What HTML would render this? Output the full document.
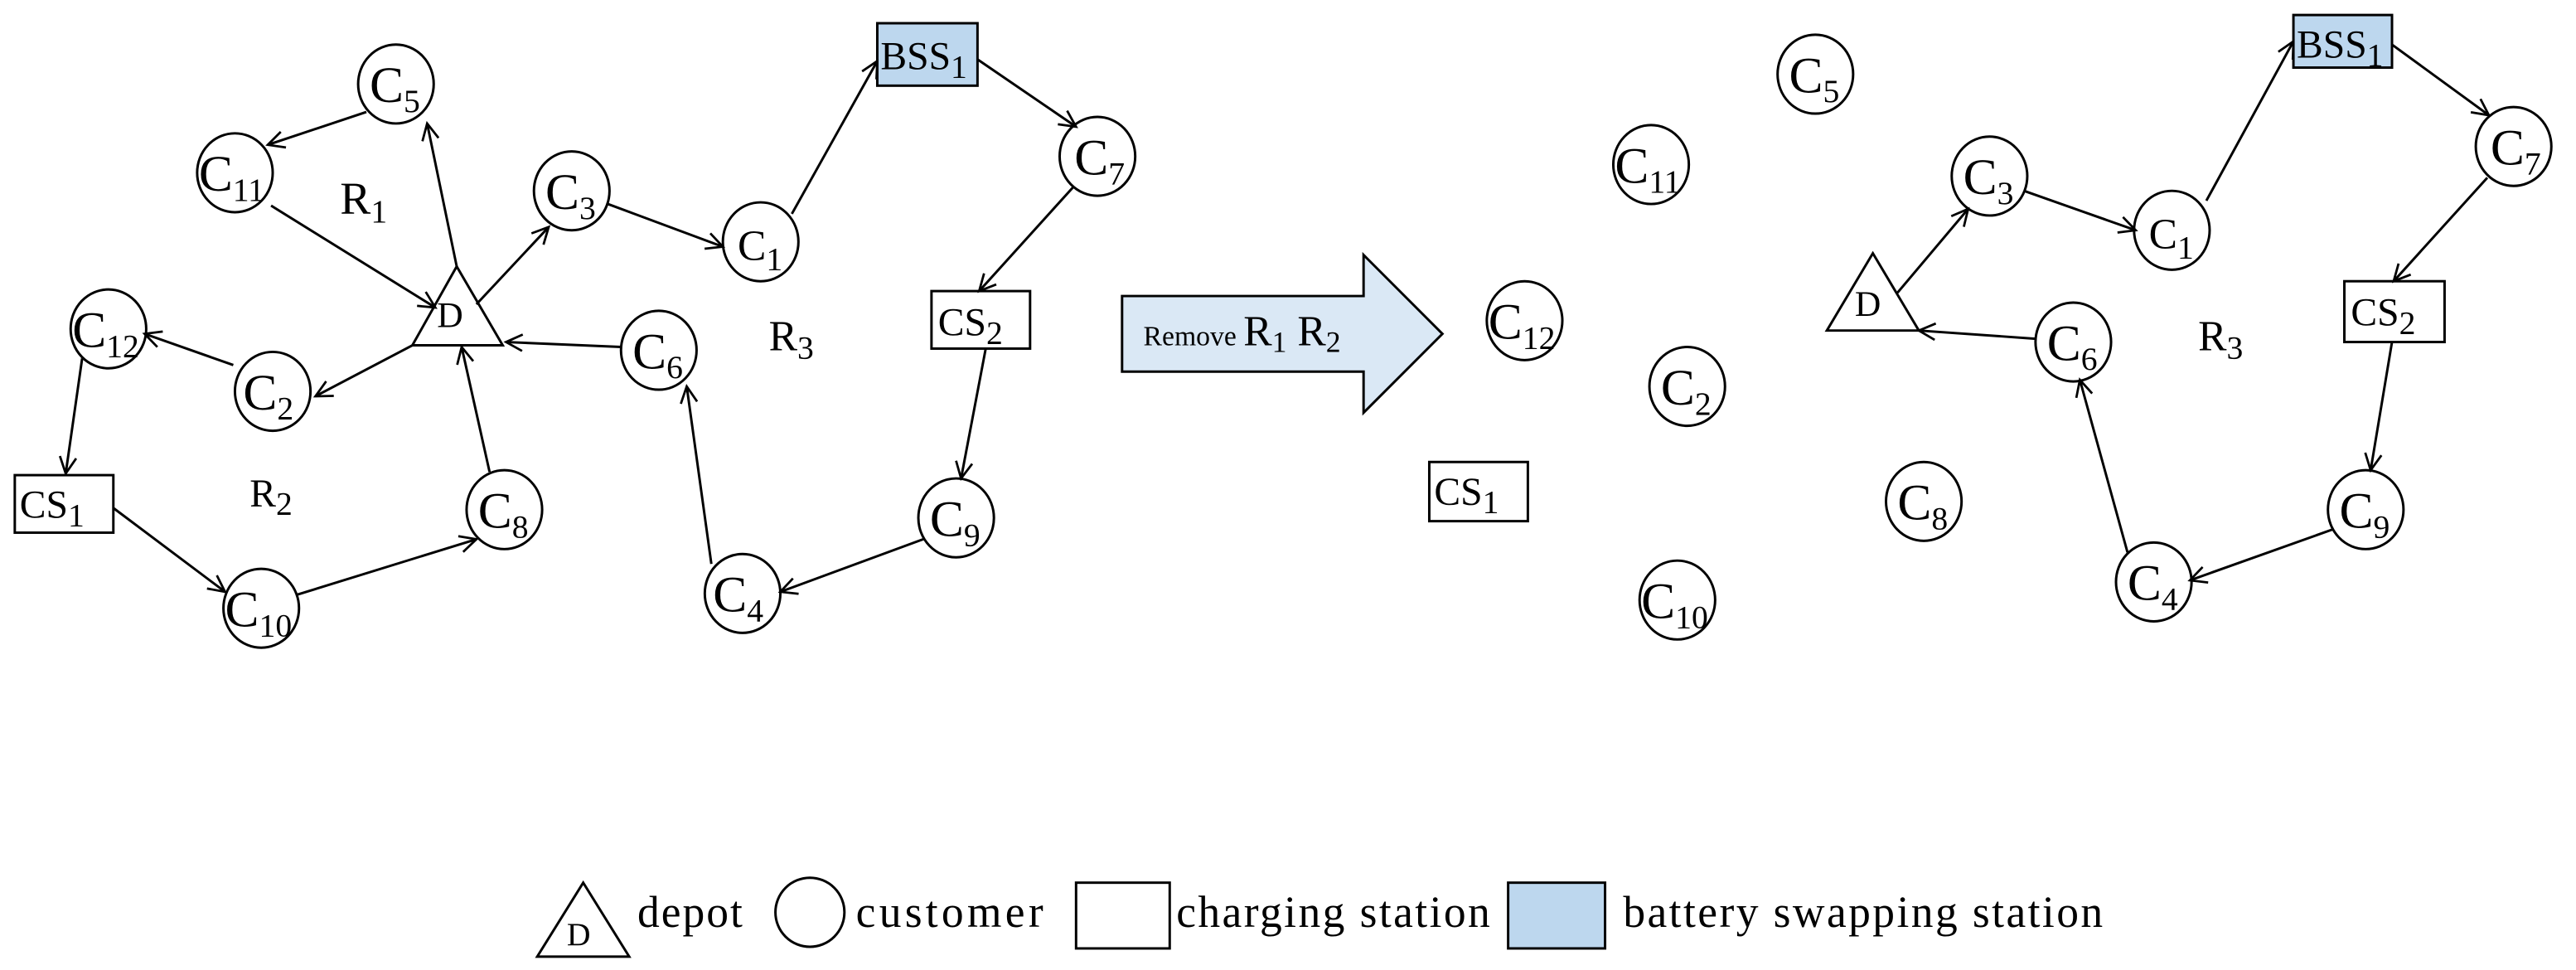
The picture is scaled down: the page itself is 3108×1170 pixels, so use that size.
<!DOCTYPE html>
<html><head><meta charset="utf-8"><style>
html,body{margin:0;padding:0;background:#fff;}
svg{display:block}
text{font-family:"Liberation Serif",serif;fill:#000}
.c{font-size:31px}
.s{font-size:20px}
</style></head><body>
<svg width="3108" height="1170" viewBox="0 0 1568 590" xmlns="http://www.w3.org/2000/svg">
<defs>
<marker id="a" markerWidth="14" markerHeight="14" refX="12" refY="7" orient="auto" markerUnits="userSpaceOnUse">
<polyline points="2,2 12,7 2,12" fill="none" stroke="#000" stroke-width="1.4"/>
</marker>
</defs>
<g fill="none" stroke="#000" stroke-width="1.5">
<ellipse cx="241" cy="51" rx="23" ry="24"/>
<ellipse cx="143" cy="105" rx="23" ry="24"/>
<ellipse cx="348" cy="116" rx="23" ry="24"/>
<ellipse cx="463" cy="147" rx="23" ry="24"/>
<ellipse cx="668" cy="95" rx="23" ry="24"/>
<ellipse cx="66" cy="200" rx="23" ry="24"/>
<ellipse cx="166" cy="238" rx="23" ry="24"/>
<ellipse cx="401" cy="213" rx="23" ry="24"/>
<ellipse cx="307" cy="310" rx="23" ry="24"/>
<ellipse cx="582" cy="315" rx="23" ry="24"/>
<ellipse cx="159" cy="370" rx="23" ry="24"/>
<ellipse cx="452" cy="361" rx="23" ry="24"/>
<rect x="534" y="14" width="61" height="38" fill="#bdd7ee"/>
<rect x="567" y="177" width="60" height="35"/>
<rect x="9" y="289" width="60" height="35"/>
<polygon points="278,162 251,210 306,210"/>
<line x1="223" y1="68" x2="163" y2="88" marker-end="url(#a)"/>
<line x1="278" y1="162" x2="260" y2="75" marker-end="url(#a)"/>
<line x1="165" y1="125" x2="265" y2="187" marker-end="url(#a)"/>
<line x1="290" y1="185" x2="334" y2="138" marker-end="url(#a)"/>
<line x1="370" y1="124" x2="440" y2="150" marker-end="url(#a)"/>
<line x1="482" y1="130" x2="534" y2="37" marker-end="url(#a)"/>
<line x1="595" y1="36" x2="655" y2="77" marker-end="url(#a)"/>
<line x1="653" y1="114" x2="596" y2="177" marker-end="url(#a)"/>
<line x1="600" y1="212" x2="585" y2="291" marker-end="url(#a)"/>
<line x1="562" y1="328" x2="475" y2="360" marker-end="url(#a)"/>
<line x1="433" y1="343" x2="418" y2="235" marker-end="url(#a)"/>
<line x1="378" y1="211" x2="308" y2="208" marker-end="url(#a)"/>
<line x1="298" y1="287" x2="281" y2="211" marker-end="url(#a)"/>
<line x1="251" y1="210" x2="192" y2="241" marker-end="url(#a)"/>
<line x1="142" y1="222" x2="88" y2="203" marker-end="url(#a)"/>
<line x1="50" y1="218" x2="40" y2="288" marker-end="url(#a)"/>
<line x1="69" y1="309" x2="137" y2="360" marker-end="url(#a)"/>
<line x1="180" y1="362" x2="290" y2="328" marker-end="url(#a)"/>
<polygon points="683,180 830,180 830,155 878,203 830,251 830,226 683,226" fill="#dae8f5"/>
<ellipse cx="1105" cy="45" rx="23" ry="24"/>
<ellipse cx="1005" cy="100" rx="23" ry="24"/>
<ellipse cx="928" cy="195" rx="23" ry="24"/>
<ellipse cx="1027" cy="235" rx="23" ry="24"/>
<ellipse cx="1171" cy="305" rx="23" ry="24"/>
<ellipse cx="1021" cy="365" rx="23" ry="24"/>
<ellipse cx="1211" cy="107" rx="23" ry="24"/>
<ellipse cx="1322" cy="140" rx="23" ry="24"/>
<ellipse cx="1530" cy="89" rx="23" ry="24"/>
<ellipse cx="1262" cy="208" rx="23" ry="24"/>
<ellipse cx="1440" cy="310" rx="23" ry="24"/>
<ellipse cx="1311" cy="354" rx="23" ry="24"/>
<rect x="870" y="281" width="60" height="36"/>
<rect x="1396" y="9" width="60" height="32" fill="#bdd7ee"/>
<rect x="1427" y="171" width="61" height="37"/>
<polygon points="1140,154 1112,201 1168,201"/>
<line x1="1155" y1="178" x2="1198" y2="127" marker-end="url(#a)"/>
<line x1="1232" y1="116" x2="1300" y2="140" marker-end="url(#a)"/>
<line x1="1343" y1="122" x2="1396" y2="25" marker-end="url(#a)"/>
<line x1="1456" y1="27" x2="1515" y2="70" marker-end="url(#a)"/>
<line x1="1514" y1="108" x2="1457" y2="171" marker-end="url(#a)"/>
<line x1="1456" y1="208" x2="1443" y2="286" marker-end="url(#a)"/>
<line x1="1420" y1="322" x2="1333" y2="353" marker-end="url(#a)"/>
<line x1="1295" y1="336" x2="1266" y2="231" marker-end="url(#a)"/>
<line x1="1239" y1="206" x2="1168" y2="201" marker-end="url(#a)"/>
<polygon points="355,537 327,582 383,582"/>
<ellipse cx="493" cy="555" rx="21" ry="21"/>
<rect x="655" y="537" width="57" height="40"/>
<rect x="918" y="537" width="59" height="40" fill="#bdd7ee"/>
</g>
<g>
<text class="c" x="225" y="62">C<tspan class="s" dy="6">5</tspan></text>
<text class="c" x="121" y="116">C<tspan class="s" dy="6">11</tspan></text>
<text class="c" x="332" y="127">C<tspan class="s" dy="6">3</tspan></text>
<text class="c" x="449" y="158" style="font-size:26px">C<tspan class="s" dy="6">1</tspan></text>
<text class="c" x="654" y="106">C<tspan class="s" dy="6">7</tspan></text>
<text class="c" x="44" y="211">C<tspan class="s" dy="6">12</tspan></text>
<text class="c" x="148" y="249">C<tspan class="s" dy="6">2</tspan></text>
<text class="c" x="385" y="224">C<tspan class="s" dy="6">6</tspan></text>
<text class="c" x="291" y="321">C<tspan class="s" dy="6">8</tspan></text>
<text class="c" x="566" y="326">C<tspan class="s" dy="6">9</tspan></text>
<text class="c" x="137" y="381">C<tspan class="s" dy="6">10</tspan></text>
<text class="c" x="434" y="372">C<tspan class="s" dy="6">4</tspan></text>
<text x="536" y="42" style="font-size:24px">BSS<tspan class="s" dy="5">1</tspan></text>
<text x="571" y="204" style="font-size:24px">CS<tspan class="s" dy="5">2</tspan></text>
<text x="12" y="315" style="font-size:24px">CS<tspan class="s" dy="5">1</tspan></text>
<text x="266" y="199" style="font-size:22px">D</text>
<text x="207" y="130" style="font-size:28px">R<tspan class="s" dy="5">1</tspan></text>
<text x="152" y="308" style="font-size:24px">R<tspan class="s" dy="5">2</tspan></text>
<text x="468" y="213" style="font-size:26px">R<tspan class="s" dy="5">3</tspan></text>
<text x="696" y="210" style="font-size:17px">Remove <tspan style="font-size:26px">R</tspan><tspan style="font-size:18px" dy="4">1</tspan><tspan style="font-size:26px" dy="-4"> R</tspan><tspan style="font-size:18px" dy="4">2</tspan></text>
<text class="c" x="1089" y="56">C<tspan class="s" dy="6">5</tspan></text>
<text class="c" x="983" y="111">C<tspan class="s" dy="6">11</tspan></text>
<text class="c" x="906" y="206">C<tspan class="s" dy="6">12</tspan></text>
<text class="c" x="1011" y="246">C<tspan class="s" dy="6">2</tspan></text>
<text class="c" x="1155" y="316">C<tspan class="s" dy="6">8</tspan></text>
<text class="c" x="999" y="376">C<tspan class="s" dy="6">10</tspan></text>
<text class="c" x="1195" y="118">C<tspan class="s" dy="6">3</tspan></text>
<text class="c" x="1308" y="151" style="font-size:26px">C<tspan class="s" dy="6">1</tspan></text>
<text class="c" x="1516" y="100">C<tspan class="s" dy="6">7</tspan></text>
<text class="c" x="1246" y="219">C<tspan class="s" dy="6">6</tspan></text>
<text class="c" x="1424" y="321">C<tspan class="s" dy="6">9</tspan></text>
<text class="c" x="1295" y="365">C<tspan class="s" dy="6">4</tspan></text>
<text x="873" y="307" style="font-size:24px">CS<tspan class="s" dy="5">1</tspan></text>
<text x="1398" y="35" style="font-size:24px">BSS<tspan class="s" dy="5">1</tspan></text>
<text x="1431" y="198" style="font-size:24px">CS<tspan class="s" dy="5">2</tspan></text>
<text x="1129" y="192" style="font-size:22px">D</text>
<text x="1338" y="213" style="font-size:26px">R<tspan class="s" dy="5">3</tspan></text>
<text x="345" y="575" style="font-size:20px">D</text>
<text x="388" y="564" style="font-size:27px" textLength="64">depot</text>
<text x="521" y="564" style="font-size:27px" textLength="114">customer</text>
<text x="716" y="564" style="font-size:27px" textLength="191">charging station</text>
<text x="988" y="564" style="font-size:27px" textLength="292">battery swapping station</text>
</g>
</svg>
</body></html>
